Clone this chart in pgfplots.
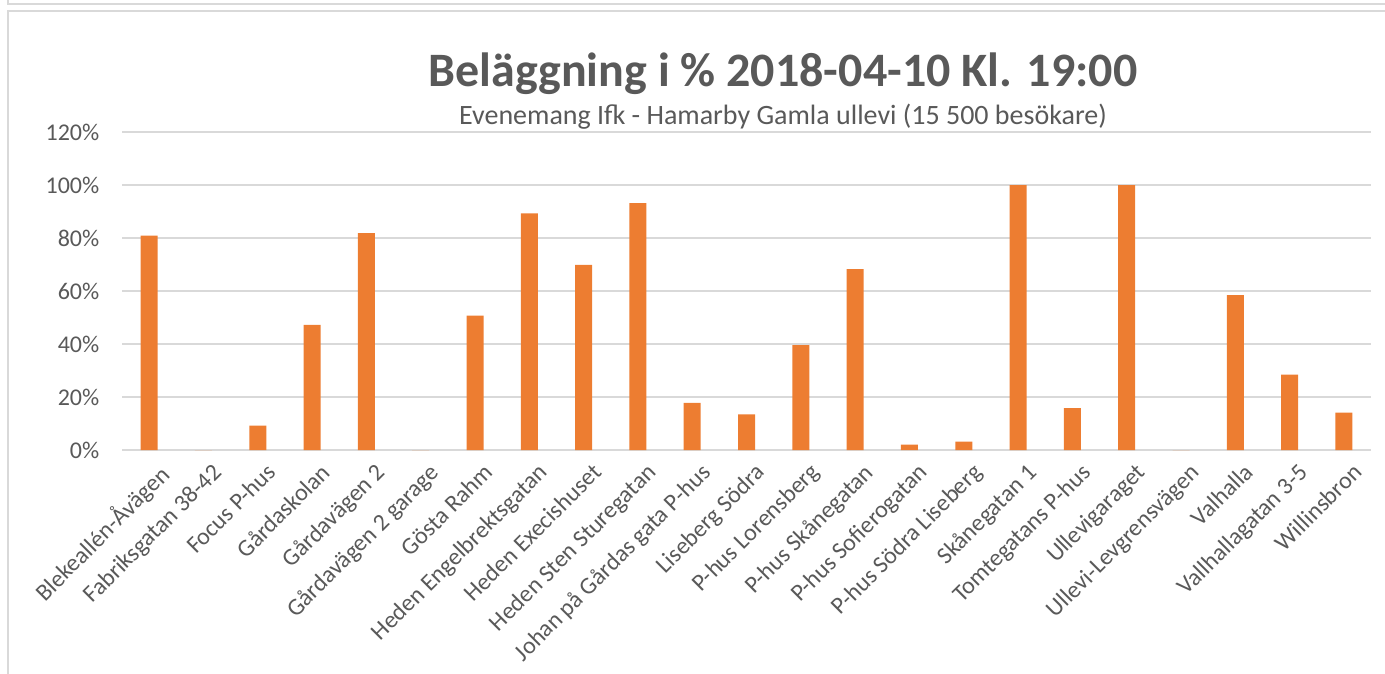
\documentclass[border=0pt]{standalone}
\usepackage{fontspec}
\setmainfont{Carlito}
\usepackage{pgfplots}
\pgfplotsset{compat=1.18}
\definecolor{barorange}{HTML}{ED7D31}
\definecolor{txtgray}{HTML}{595959}
\definecolor{gridgray}{HTML}{D9D9D9}

\begin{document}
\begin{tikzpicture}
% frame and titles, in pixel units of the reference (1px = 0.375pt)
\begin{scope}[x=0.375pt,y=-0.375pt]
\useasboundingbox (0,0) rectangle (1385,673);
\draw[gridgray, line width=0.6pt] (8,-5) -- (8,4) -- (1390,4);
\draw[gridgray, line width=0.6pt] (1390,11) -- (8,11) -- (8,690);
\node[anchor=base, inner sep=0pt, font=\fontsize{18}{21}\selectfont\bfseries, text=txtgray]
  at (783,87) {Beläggning i \% 2018-04-10 Kl. 19:00};
\node[anchor=base, inner sep=0pt, font=\fontsize{10.5}{12}\selectfont, text=txtgray]
  at (783,125) {Evenemang Ifk - Hamarby Gamla ullevi (15 500 besökare)};
\end{scope}

\begin{axis}[
    at={(45.75pt,-168.75pt)}, anchor=south west,
    scale only axis,
    width=468.4pt, height=119.25pt,
    xmin=-0.5, xmax=22.5,
    ymin=0, ymax=120,
    ybar, bar width=6.375pt,
    axis line style={draw=none},
    major tick length=0pt,
    ymajorgrids,
    grid style={gridgray, line width=0.56pt},
    ytick={0,20,40,60,80,100,120},
    yticklabels={0\%,20\%,40\%,60\%,80\%,100\%,120\%},
    tick label style={text=txtgray, font=\fontsize{9}{11}\selectfont},
    y tick label style={anchor=east, xshift=-5pt},
    xtick={0,...,22},
    xticklabels={Blekeallén-Åvägen, Fabriksgatan 38-42, Focus P-hus, Gårdaskolan,
        Gårdavägen 2, Gårdavägen 2 garage, Gösta Rahm, Heden Engelbrektsgatan,
        Heden Execishuset, Heden Sten Sturegatan, Johan på Gårdas gata P-hus,
        Liseberg Södra, P-hus Lorensberg, P-hus Skånegatan, P-hus Sofierogatan,
        P-hus Södra Liseberg, Skånegatan 1, Tomtegatans P-hus, Ullevigaraget,
        Ullevi-Levgrensvägen, Valhalla, Vallhallagatan 3-5, Willinsbron},
    x tick label style={rotate=45, anchor=north east, inner sep=1pt, yshift=-4pt},
]
\addplot[fill=barorange, draw=none] coordinates {
    (0,80.9) (1,0) (2,9.2) (3,47.2) (4,81.8) (5,0) (6,50.7) (7,89.3)
    (8,69.9) (9,93.2) (10,17.8) (11,13.4) (12,39.6) (13,68.3) (14,2.0)
    (15,3.2) (16,100) (17,15.8) (18,100) (19,0) (20,58.4) (21,28.4) (22,14.1)
};
\end{axis}
\end{tikzpicture}
\end{document}
